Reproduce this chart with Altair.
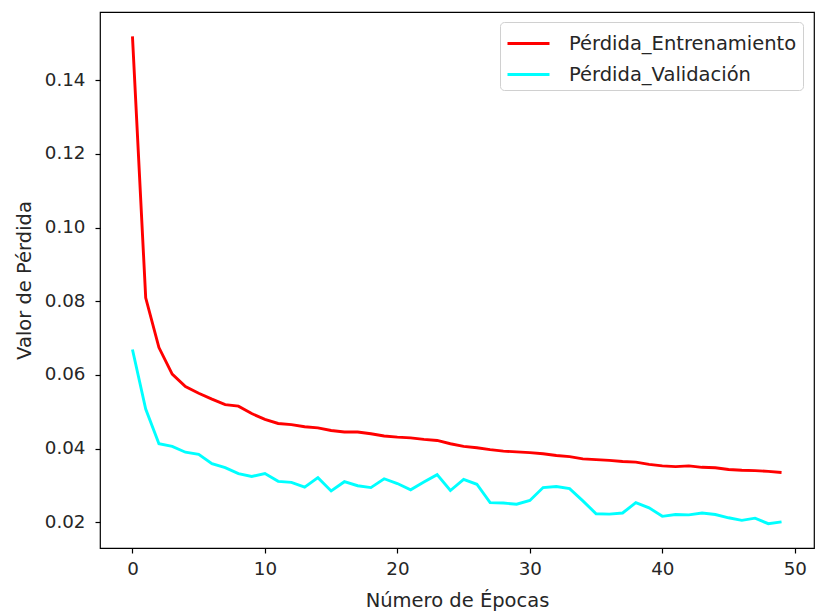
import altair as alt
import pandas as pd

epochs = list(range(50))
perdida_entrenamiento = [
    0.1519, 0.0809, 0.0674, 0.0602, 0.0568, 0.0550, 0.0534, 0.0519, 0.0515, 0.0495,
    0.0479, 0.0468, 0.0465, 0.0459, 0.0456, 0.0449, 0.0445, 0.0445, 0.0440, 0.0434,
    0.0431, 0.0429, 0.0425, 0.0422, 0.0413, 0.0406, 0.0402, 0.0397, 0.0393, 0.0391,
    0.0389, 0.0386, 0.0381, 0.0378, 0.0372, 0.0370, 0.0368, 0.0365, 0.0363, 0.0357,
    0.0353, 0.0351, 0.0353, 0.0349, 0.0348, 0.0343, 0.0341, 0.0340, 0.0338, 0.0335,
]
perdida_validacion = [
    0.0669, 0.0507, 0.0413, 0.0406, 0.0390, 0.0384, 0.0359, 0.0348, 0.0332, 0.0324,
    0.0332, 0.0311, 0.0308, 0.0295, 0.0321, 0.0285, 0.0310, 0.0299, 0.0294, 0.0318,
    0.0305, 0.0288, 0.0309, 0.0329, 0.0286, 0.0316, 0.0303, 0.0253, 0.0252, 0.0249,
    0.0259, 0.0294, 0.0297, 0.0291, 0.0258, 0.0223, 0.0222, 0.0225, 0.0253, 0.0239,
    0.0216, 0.0221, 0.0220, 0.0225, 0.0221, 0.0212, 0.0205, 0.0211, 0.0196, 0.0201,
]
series_names = ["Pérdida_Entrenamiento", "Pérdida_Validación"]
series_colors = ["#ff0000", "#00ffff"]
x_ticks = [0, 10, 20, 30, 40, 50]
y_ticks = [0.02, 0.04, 0.06, 0.08, 0.10, 0.12, 0.14]

df = pd.DataFrame({
    "epoch": epochs * 2,
    "loss": perdida_entrenamiento + perdida_validacion,
    "serie": [series_names[0]] * 50 + [series_names[1]] * 50,
})

FONT = "DejaVu Sans"
FS = 19.5
TICK_FS = 18.3

chart = (
    alt.Chart(df)
    .mark_line(strokeWidth=2.9, clip=True)
    .encode(
        x=alt.X(
            "epoch:Q",
            scale=alt.Scale(domain=[-2.45, 51.45], nice=False, zero=False),
            axis=alt.Axis(values=x_ticks, format="d", title="Número de Épocas",
                          titlePadding=14, labelPadding=7),
        ),
        y=alt.Y(
            "loss:Q",
            scale=alt.Scale(domain=[0.0130, 0.1585], nice=False, zero=False),
            axis=alt.Axis(values=y_ticks, format=".2f", title="Valor de Pérdida",
                          titlePadding=10, labelPadding=10),
        ),
        color=alt.Color(
            "serie:N",
            scale=alt.Scale(domain=series_names, range=series_colors),
            legend=alt.Legend(
                title=None,
                orient="none",
                legendX=400,
                legendY=10,
                symbolType="M-1,0H2",
                symbolSize=784,
                symbolStrokeWidth=3,
                symbolFillColor="transparent",
                labelFont=FONT,
                labelFontSize=FS,
                labelColor="#262626",
                labelOffset=32,
                labelLimit=0,
                rowPadding=6,
                padding=6,
                strokeColor="#d0d0d0",
                fillColor="white",
                cornerRadius=4,
            ),
        ),
    )
    .properties(
        width=714,
        height=536,
        padding={"left": 100, "top": 12, "right": 2, "bottom": 68},
        autosize=alt.AutoSizeParams(type="none"),
    )
    .configure_view(stroke="black", strokeWidth=1.2)
    .configure_axis(
        grid=False,
        domain=False,
        tickColor="black",
        tickSize=5,
        tickWidth=1.2,
        labelFont=FONT,
        labelFontSize=TICK_FS,
        labelColor="#262626",
        titleFont=FONT,
        titleFontSize=FS,
        titleFontWeight="normal",
        titleColor="#262626",
    )
    .configure_axisX(labelFlush=False)
    .configure_axisY(labelFlush=False)
)

chart.save("out.html", embed_options={"renderer": "svg", "actions": False})
